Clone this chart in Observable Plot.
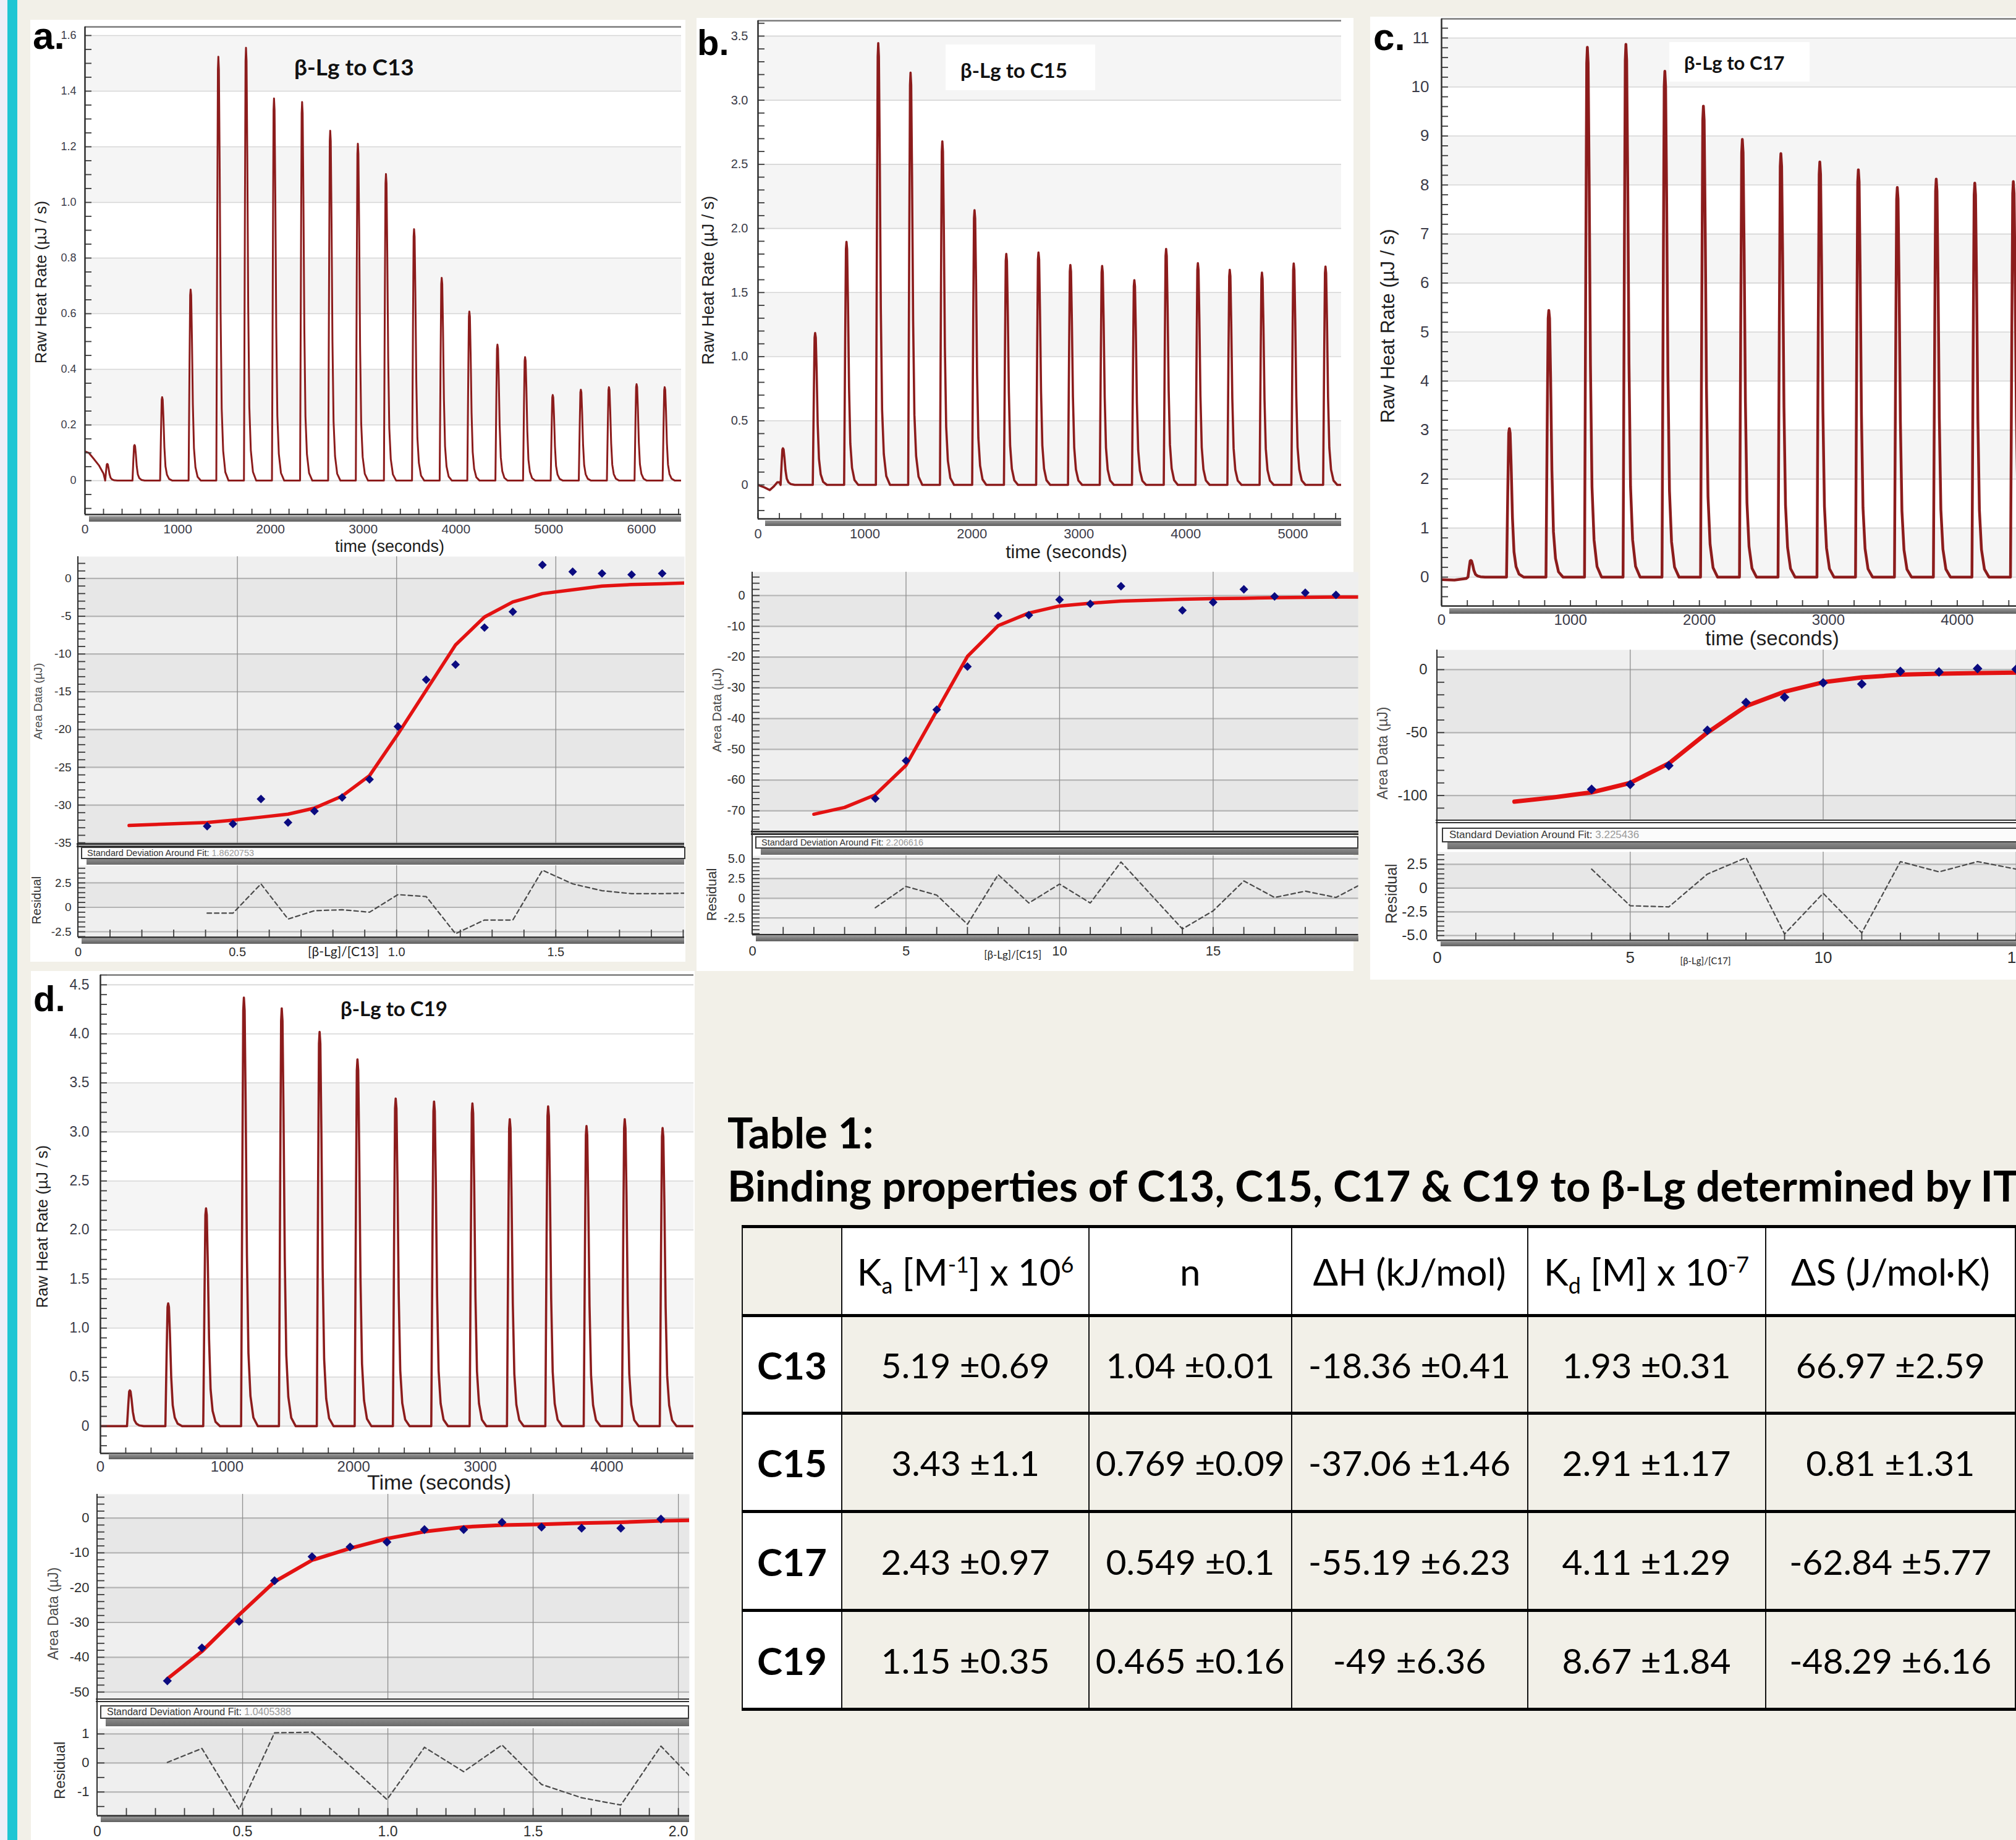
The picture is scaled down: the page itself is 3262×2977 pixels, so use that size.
<!DOCTYPE html>
<html><head><meta charset="utf-8">
<script src="https://cdn.jsdelivr.net/npm/d3@7"></script>
<script src="https://cdn.jsdelivr.net/npm/@observablehq/plot@0.6"></script>
<style>
html,body{margin:0;padding:0;background:#f2f0e8;}
body{width:3262px;height:2977px;overflow:hidden;position:relative;font-family:"Liberation Sans",Arial,sans-serif;}
#root{position:absolute;left:0;top:0;width:3262px;height:2977px;overflow:hidden;}
.deco{position:absolute;}
.lbl{position:absolute;white-space:nowrap;line-height:1;}
.sd{position:absolute;box-sizing:border-box;border:2px solid #3a3a3a;background:#fbfbfb;font-family:"Liberation Sans Narrow","Arial Narrow","Liberation Sans",Arial,sans-serif;color:#333;white-space:nowrap;overflow:hidden;}
.sd span{color:#9a9a9a;}
#tbl{position:absolute;left:1200px;top:1982px;border-collapse:collapse;table-layout:fixed;font-family:Lato,"Open Sans",sans-serif;font-size:57px;color:#000;}
#tbl td{border-left:2px solid #111;border-right:2px solid #111;border-top:5px solid #000;border-bottom:5px solid #000;text-align:center;vertical-align:middle;padding:0;white-space:nowrap;overflow:hidden;}
#tbl td.hd{background:#fff;font-size:60px;}
#tbl td.rl{background:#fff;font-weight:700;font-size:62px;}
#tbl sub,#tbl sup{font-size:0.6em;line-height:0;}
</style></head>
<body><div id="root"></div>
<script>
// ====================== DATA ======================
// common peak template for the raw thermograms (time offset from peak top, fraction of peak height)
const shapeDt   = [-22, -12, -5, 0, 6, 14, 24, 36, 52, 75, 110];
const shapeFrac = [0, 0.6, 0.97, 1, 0.97, 0.75, 0.4, 0.17, 0.07, 0.02, 0];

// ---- Panel a : β-Lg to C13 ----
const aPeakTime   = [240,534,832,1139,1438,1736,2038,2341,2644,2942,3245,3548,3846,4144,4447,4745,5043,5346,5649,5947,6250];
const aPeakHeight = [0.06,0.128,0.30,0.687,1.524,1.556,1.374,1.361,1.258,1.211,1.102,0.904,0.729,0.608,0.489,0.444,0.308,0.327,0.336,0.347,0.336];
const aLeadTime   = [0,40,90,150,200];
const aLeadValue  = [0.105,0.10,0.08,0.055,0.025];
const aRawYTicks  = [0,0.2,0.4,0.6,0.8,1.0,1.2,1.4,1.6];
const aRawXTicks  = [0,1000,2000,3000,4000,5000,6000];
const aRatio      = [0.405,0.486,0.574,0.659,0.742,0.829,0.915,1.004,1.093,1.185,1.276,1.365,1.458,1.553,1.645,1.738,1.834];
const aArea       = [-32.8,-32.5,-29.2,-32.3,-30.8,-29.0,-26.6,-19.6,-13.4,-11.4,-6.5,-4.4,1.8,0.9,0.66,0.5,0.66];
const aFitRatio   = [0.16,0.405,0.486,0.574,0.659,0.742,0.829,0.915,1.004,1.093,1.185,1.276,1.365,1.458,1.553,1.645,1.738,1.834,1.904];
const aFit        = [-32.7,-32.3,-32.0,-31.6,-31.2,-30.4,-28.8,-26.1,-20.6,-14.8,-8.8,-5.1,-3.1,-2.0,-1.5,-1.0,-0.8,-0.7,-0.6];
const aResidRatio = [0.405,0.486,0.574,0.659,0.742,0.829,0.915,1.004,1.093,1.185,1.276,1.365,1.458,1.553,1.645,1.738,1.834,1.904];
const aResid      = [-0.6,-0.6,2.4,-1.2,-0.35,-0.25,-0.5,1.3,1.1,-2.7,-1.3,-1.3,3.8,2.4,1.7,1.4,1.4,1.45];
const aAreaYTicks = [0,-5,-10,-15,-20,-25,-30,-35];
const aResYTicks  = [2.5,0,-2.5];
const aRatioTicks = [0,0.5,1.0,1.5];
const aSD = "1.8620753";

// ---- Panel b : β-Lg to C15 ----
const bPeakTime   = [233,534,827,1124,1426,1723,2024,2321,2622,2920,3217,3518,3815,4112,4410,4711,5008,5305];
const bPeakHeight = [0.285,1.184,1.895,3.445,3.215,2.679,2.142,1.801,1.812,1.715,1.707,1.597,1.840,1.729,1.677,1.655,1.727,1.702];
const bLeadTime   = [0,60,110,150,180,200];
const bLeadValue  = [0.0,-0.02,-0.04,-0.01,0.02,0.02];
const bRawYTicks  = [0,0.5,1.0,1.5,2.0,2.5,3.0,3.5];
const bRawXTicks  = [0,1000,2000,3000,4000,5000];
const bRatio      = [4,5,6,7,8,9,10,11,12,14,15,16,17,18,19];
const bArea       = [-66.0,-53.7,-37.1,-23.1,-6.6,-6.4,-1.35,-2.7,3.0,-4.8,-2.2,2.0,-0.3,0.9,0.2];
const bFitRatio   = [2,3,4,5,6,7,8,9,10,11,12,13,14,15,16,17,18,19,19.73];
const bFit        = [-71.1,-68.9,-64.8,-55.2,-37.5,-19.8,-9.8,-5.7,-3.4,-2.5,-1.8,-1.5,-1.2,-1.0,-0.9,-0.7,-0.6,-0.5,-0.5];
const bResidRatio = [4,5,6,7,8,9,10,11,12,14,15,16,17,18,19,19.73];
const bResid      = [-1.2,1.5,0.4,-3.3,3.0,-0.6,1.8,-0.6,4.6,-3.9,-1.6,2.2,0.1,0.9,0.1,1.6];
const bAreaYTicks = [0,-10,-20,-30,-40,-50,-60,-70];
const bResYTicks  = [5,2.5,0,-2.5];
const bRatioTicks = [0,5,10,15];
const bSD = "2.206616";

// ---- Panel c : β-Lg to C17 ----
const cPeakTime   = [227,526,832,1131,1430,1732,2031,2333,2632,2934,3233,3535,3837,4136,4435];
const cPeakHeight = [0.34,3.03,5.44,10.81,10.87,10.32,9.61,8.93,8.64,8.47,8.31,7.95,8.12,8.04,8.07];
const cLeadTime   = [0,100,190];
const cLeadValue  = [-0.05,-0.06,-0.03];
const cRawYTicks  = [0,1,2,3,4,5,6,7,8,9,10,11];
const cRawXTicks  = [0,1000,2000,3000,4000];
const cRatio      = [4,5,6,7,8,9,10,11,12,13,14,15];
const cArea       = [-95.1,-91.2,-76.3,-48.2,-26.0,-21.9,-10.5,-11.4,-1.4,-1.8,0.9,0.4];
const cFitRatio   = [2,3,4,5,6,7,8,9,10,11,12,13,14,15,15.5];
const cFit        = [-104.9,-101.5,-97.5,-90,-74.5,-50,-29,-17.5,-10,-6.2,-4.0,-3.2,-2.7,-2.4,-2.3];
const cResidRatio = [4,5,6,7,8,9,10,11,12,13,14,15];
const cResid      = [2.0,-1.86,-1.98,1.48,3.2,-4.83,-0.55,-4.71,2.79,1.71,2.79,2.0];
const cAreaYTicks = [0,-50,-100];
const cResYTicks  = [2.5,0,-2.5,-5];
const cRatioTicks = [0,5,10,15];
const cSD = "3.225436";

// ---- Panel d : β-Lg to C19 ----
const dPeakTime   = [232,535,834,1133,1432,1731,2030,2332,2635,2938,3233,3536,3839,4141,4440];
const dPeakHeight = [0.364,1.252,2.22,4.37,4.26,4.02,3.74,3.34,3.31,3.29,3.13,3.26,3.06,3.13,3.04];
const dLeadTime   = [0,200];
const dLeadValue  = [0,0];
const dRawYTicks  = [0,0.5,1.0,1.5,2.0,2.5,3.0,3.5,4.0,4.5];
const dRawXTicks  = [0,1000,2000,3000,4000];
const dRatio      = [0.241,0.360,0.488,0.610,0.739,0.870,0.997,1.126,1.261,1.393,1.529,1.667,1.802,1.940];
const dArea       = [-46.8,-37.3,-29.7,-18.0,-11.1,-8.3,-6.9,-3.3,-3.3,-1.2,-2.6,-2.9,-2.9,-0.3];
const dFitRatio   = [0.241,0.360,0.488,0.610,0.739,0.870,0.997,1.126,1.261,1.393,1.529,1.667,1.802,1.940,2.04];
const dFit        = [-46.2,-38.3,-27.8,-18.3,-12.1,-8.7,-5.9,-3.9,-2.6,-2.0,-1.8,-1.45,-1.2,-0.8,-0.65];
const dResidRatio = [0.241,0.360,0.488,0.610,0.739,0.870,0.997,1.126,1.261,1.393,1.529,1.667,1.802,1.940,2.04];
const dResid      = [0.02,0.5,-1.6,1.04,1.06,-0.1,-1.26,0.54,-0.3,0.62,-0.74,-1.2,-1.45,0.58,-0.46];
const dAreaYTicks = [0,-10,-20,-30,-40,-50];
const dResYTicks  = [1,0,-1];
const dRatioTicks = [0,0.5,1.0,1.5,2.0];
const dSD = "1.0405388";

// ---- Table 1 ----
const tableTitle    = "Table 1:";
const tableSubtitle = "Binding properties of C13, C15, C17 & C19 to β-Lg determined by ITC";
const tableHeaders  = ["K<sub>a</sub> [M<sup>-1</sup>] x 10<sup>6</sup>", "n", "ΔH (kJ/mol)", "K<sub>d</sub> [M] x 10<sup>-7</sup>", "ΔS (J/mol·K)"];
const tableRows     = ["C13","C15","C17","C19"];
const tableKa = ["5.19 ±0.69","3.43 ±1.1","2.43 ±0.97","1.15 ±0.35"];
const tableN  = ["1.04 ±0.01","0.769 ±0.09","0.549 ±0.1","0.465 ±0.16"];
const tableDH = ["-18.36 ±0.41","-37.06 ±1.46","-55.19 ±6.23","-49 ±6.36"];
const tableKd = ["1.93 ±0.31","2.91 ±1.17","4.11 ±1.29","8.67 ±1.84"];
const tableDS = ["66.97 ±2.59","0.81 ±1.31","-62.84 ±5.77","-48.29 ±6.16"];

// ====================== DRAWING ======================
const root = document.getElementById("root");
const SANS = '"Liberation Sans", Arial, Helvetica, sans-serif';
const NARROW = '"Liberation Sans Narrow", "Arial Narrow", "Liberation Sans", Arial, sans-serif';
const CAL = 'Lato, "Open Sans", sans-serif';
const TRACE = "#8c1c1c";
const FIT = "#e31212";
const DOT = "#0b0b80";
const M = 130;
const fmt1 = d => d === 0 ? "0" : d.toFixed(1);
const fmt0 = d => String(d);

function deco(x, y, w, h, style) {
  const el = document.createElement("div");
  el.className = "deco";
  Object.assign(el.style, {left: x + "px", top: y + "px", width: w + "px", height: h + "px"}, style || {});
  root.appendChild(el);
  return el;
}
function label(text, x, y, size, style) {
  const el = document.createElement("div");
  el.className = "lbl";
  el.textContent = text;
  Object.assign(el.style, {left: x + "px", top: y + "px", fontSize: size + "px"}, style || {});
  root.appendChild(el);
  return el;
}
function buildTrace(leadT, leadV, peakT, peakH, endT) {
  const pts = leadT.map((t, i) => ({t, v: leadV[i]}));
  peakT.forEach((tp, i) => shapeDt.forEach((dt, j) => pts.push({t: tp + dt, v: peakH[i] * shapeFrac[j]})));
  pts.push({t: endT, v: 0});
  return pts;
}
const zipXY = (xs, ys) => xs.map((x, i) => ({x, y: ys[i]}));

function panelPlot(c) {
  const [x0, y0, x1, y1] = c.frame;
  const W = x1 - x0, H = y1 - y0;
  const [xa, xb] = c.xDomain;
  const marks = [Plot.frame({fill: c.bg, stroke: "none"})];
  if (c.bands) marks.push(Plot.rect(c.bands, {x1: () => xa, x2: () => xb, y1: d => d[0], y2: d => d[1], fill: c.bandFill}));
  if (c.hGrid) marks.push(Plot.ruleY(c.hGrid, {stroke: c.gridStroke, strokeWidth: c.gridWidth}));
  if (c.vGrid) marks.push(Plot.ruleX(c.vGrid, {stroke: "#8e8e8e", strokeWidth: 1.3}));
  (c.data || []).forEach(m => marks.push(m));
  if (c.yMinor) marks.push(Plot.ruleY(c.yMinor, {stroke: "#3c3c3c", strokeWidth: 1.8, insetRight: W - c.tickLen}));
  if (c.xTicks) marks.push(Plot.ruleX(c.xTicks, {stroke: "#3c3c3c", strokeWidth: 1.8, insetTop: H - c.xTickLen}));
  if (c.topLine) marks.push(Plot.ruleY([c.yDomain[1]], {stroke: "#7a7a7a", strokeWidth: 2.5}));
  if (c.bottomLine) marks.push(Plot.ruleY([c.yDomain[0]], {stroke: "#2e2e2e", strokeWidth: 2.5}));
  if (c.leftLine) marks.push(Plot.ruleX([xa], {stroke: "#2e2e2e", strokeWidth: 2.5}));
  if (c.yLabels) marks.push(Plot.axisY(c.yLabels, {anchor: "left", label: null, tickSize: 0, tickPadding: c.yPad, tickFormat: c.yFormat, fontSize: c.yFont, fill: c.tickColor || "#3b3b48", fontFamily: c.tickFamily || SANS}));
  if (c.xLabels) marks.push(Plot.axisX(c.xLabels, {anchor: "bottom", label: null, tickSize: 0, tickPadding: c.xPad, tickFormat: c.xFormat || fmt0, fontSize: c.xFont, fill: c.tickColor || "#3b3b48", fontFamily: c.tickFamily || SANS}));
  (c.titles || []).filter(t => t.text).forEach(t => marks.push(Plot.text([t.text], {
    text: d => d, frameAnchor: t.anchor, dx: t.dx, dy: t.dy, rotate: t.rotate || 0,
    fontSize: t.size, fontWeight: t.weight || "normal", fill: t.color || "#1e1e1e",
    fontFamily: t.family || SANS, textAnchor: "middle", lineAnchor: "middle"
  })));
  const svg = Plot.plot({
    width: W + 2 * M, height: H + 2 * M, margin: M,
    x: {domain: c.xDomain, axis: null, label: null},
    y: {domain: c.yDomain, axis: null, label: null},
    style: {background: "transparent", overflow: "visible", fontFamily: SANS},
    marks
  });
  svg.style.position = "absolute";
  svg.style.left = (x0 - M) + "px";
  svg.style.top = (y0 - M) + "px";
  root.appendChild(svg);
}

// left stripe
deco(0, 0, 12, 2977, {background: "#eeeef7"});
deco(12, 0, 16, 2977, {background: "#1fc6d3"});

// white panel cards
deco(49, 32, 1060, 1524, {background: "#fff"});
deco(1127, 29, 1063, 1542, {background: "#fff"});
deco(2217, 27, 1045, 1558, {background: "#fff"});
deco(50, 1571, 1074, 1406, {background: "#fff"});

// ---------------- raw thermograms ----------------
function rawPanel(o) {
  panelPlot({
    frame: o.frame, xDomain: o.xDomain, yDomain: o.yDomain,
    bg: "#ffffff", bands: o.bands, bandFill: "#f5f5f5",
    hGrid: o.yTicks, gridStroke: "#d6d6d6", gridWidth: 1.6,
    data: [Plot.line(o.trace, {x: "t", y: "v", stroke: TRACE, strokeWidth: o.sw, clip: true})],
    yMinor: o.yMinor, tickLen: 11, xTicks: o.xTicks, xTickLen: 9,
    topLine: true, bottomLine: true, leftLine: true,
    yLabels: o.yTicks, yFormat: o.yFormat, yFont: o.yFont, yPad: o.yPad,
    xLabels: o.xLabels, xFont: o.xFont, xPad: o.xPad,
    titles: [
      {text: "Raw Heat Rate (µJ / s)", anchor: "left", dx: o.yt[0], dy: o.yt[1], rotate: -90, size: o.yt[2]},
      {text: o.xTitle, anchor: "bottom", dx: o.xt[0], dy: o.xt[1], size: o.xt[2]}
    ]
  });
}
rawPanel({frame: [137, 43, 1102, 832], xDomain: [0, 6430], yDomain: [-0.122, 1.631],
  bands: [[0.2, 0.4], [0.6, 0.8], [1.0, 1.2], [1.4, 1.6]], yTicks: aRawYTicks, yFormat: fmt1,
  trace: buildTrace(aLeadTime, aLeadValue, aPeakTime, aPeakHeight, 6430), sw: 3,
  yMinor: d3.range(-0.1, 1.62, 0.05), xTicks: d3.range(0, 6401, 200), xLabels: aRawXTicks,
  yFont: 18, yPad: 14, xFont: 21, xPad: 16, xTitle: "time (seconds)",
  yt: [-71, 18.5, 26], xt: [10.5, 52, 27]});
rawPanel({frame: [1226, 33, 2170, 839], xDomain: [0, 5454], yDomain: [-0.265, 3.62],
  bands: [[0, 0.5], [1.0, 1.5], [2.0, 2.5], [3.0, 3.5]], yTicks: bRawYTicks, yFormat: fmt1,
  trace: buildTrace(bLeadTime, bLeadValue, bPeakTime, bPeakHeight, 5454), sw: 3.6,
  yMinor: d3.range(-0.2, 3.61, 0.1), xTicks: d3.range(0, 5401, 200), xLabels: bRawXTicks,
  yFont: 20, yPad: 16, xFont: 22, xPad: 16, xTitle: "time (seconds)",
  yt: [-80, 17, 27], xt: [27, 54, 30]});
rawPanel({frame: [2332, 30, 3292, 980], xDomain: [0, 4602], yDomain: [-0.59, 11.39],
  bands: [[0, 1], [2, 3], [4, 5], [6, 7], [8, 9], [10, 11]], yTicks: cRawYTicks, yFormat: fmt0,
  trace: buildTrace(cLeadTime, cLeadValue, cPeakTime, cPeakHeight, 4602), sw: 4.5,
  yMinor: d3.range(-0.4, 11.3, 0.2), xTicks: d3.range(0, 4601, 200), xLabels: cRawXTicks,
  yFont: 26, yPad: 20, xFont: 24, xPad: 13, xTitle: "time (seconds)",
  yt: [-86, 22, 31], xt: [55, 53, 33]});
rawPanel({frame: [162, 1577, 1122, 2351], xDomain: [0, 4686], yDomain: [-0.278, 4.6],
  bands: [[0, 0.5], [1.0, 1.5], [2.0, 2.5], [3.0, 3.5]], yTicks: dRawYTicks, yFormat: fmt1,
  trace: buildTrace(dLeadTime, dLeadValue, dPeakTime, dPeakHeight, 4686), sw: 3.6,
  yMinor: d3.range(-0.2, 4.61, 0.1), xTicks: d3.range(0, 4601, 200), xLabels: dRawXTicks,
  yFont: 23, yPad: 18, xFont: 24, xPad: 12, xTitle: "Time (seconds)",
  yt: [-94, 20, 26], xt: [68, 48, 34]});

// raw-plot scroll bars
[[144, 835, 958], [1238, 842, 932], [2345, 984, 917], [176, 2352, 946]].forEach(([x, y, w]) =>
  deco(x, y, w, 9, {background: "linear-gradient(#9a9a9a,#5e5e5e)"}));

// ---------------- area + residual panels ----------------
function areaPanel(o) {
  const [x0, y0, x1, y1] = o.areaFrame;
  panelPlot({
    frame: o.areaFrame, xDomain: o.xDomain, yDomain: o.areaDomain,
    bg: "#efefef", bands: o.areaBands, bandFill: "#e7e7e7",
    hGrid: o.areaTicks, gridStroke: "#b4b4b4", gridWidth: 2.2, vGrid: o.vGrid,
    data: [
      Plot.line(o.fit, {x: "x", y: "y", stroke: FIT, strokeWidth: o.fitWidth, clip: true}),
      Plot.dot(o.points, {x: "x", y: "y", symbol: "diamond2", r: o.dotR, fill: DOT, stroke: "none", clip: true})
    ],
    yMinor: o.areaMinor, tickLen: 12,
    yLabels: o.areaTicks, yFormat: fmt0, yFont: o.tf, yPad: o.yPad, tickFamily: NARROW, tickColor: "#2e2e2e",
    titles: [{text: "Area Data (µJ)", anchor: "left", dx: o.at[0], dy: o.at[1], rotate: -90, size: o.at[2], color: "#4a4a4a"}]
  });
  const [r0, ry0, r1, ry1] = o.resFrame;
  panelPlot({
    frame: o.resFrame, xDomain: o.xDomain, yDomain: o.resDomain,
    bg: "#efefef", bands: o.resBands, bandFill: "#e7e7e7",
    hGrid: o.resTicks, gridStroke: "#b4b4b4", gridWidth: 2.2, vGrid: o.vGrid,
    data: [Plot.line(o.resid, {x: "x", y: "y", stroke: "#4a4a4a", strokeWidth: 2.2, strokeDasharray: "7,5", clip: true})],
    yMinor: o.resMinor, tickLen: 12, xTicks: o.ratioMinor, xTickLen: 12, bottomLine: true,
    yLabels: o.resTicks, yFormat: o.resFormat, yFont: o.tf, yPad: o.yPad,
    xLabels: o.ratioTicks, xFormat: o.ratioFormat, xFont: o.xf, xPad: o.xPad, tickFamily: NARROW, tickColor: "#2e2e2e",
    titles: [
      {text: "Residual", anchor: "left", dx: o.rt[0], dy: o.rt[1], rotate: -90, size: o.rt[2], color: "#333"},
      {text: o.ratioLabel, anchor: "bottom", dx: o.lt[0], dy: o.lt[1], size: o.lt[2], family: CAL, color: "#222"}
    ]
  });
  // separators, SD box and bars
  deco(x0 - 2, y1, x1 - x0 + 2, 2.5, {background: "#333"});
  deco(x0 - 2, y1 + 4, x1 - x0 + 2, 2.5, {background: "#333"});
  const sd = deco(o.sdBox[0], o.sdBox[1], o.sdBox[2], o.sdBox[3], {});
  sd.className = "sd";
  sd.style.fontSize = o.sdFont + "px";
  sd.style.lineHeight = (o.sdBox[3] - 4) + "px";
  sd.style.paddingLeft = o.sdPad + "px";
  sd.innerHTML = "Standard Deviation Around Fit: <span>" + o.sd + "</span>";
  deco(o.sdBox[0] + 9, o.sdBox[1] + o.sdBox[3], x1 - o.sdBox[0] - 9, o.shadowH, {background: "linear-gradient(#8a8a8a,#6a6a6a)"});
  deco(x0 + 6, ry1 + 2, x1 - x0 - 6, 9, {background: "linear-gradient(#9a9a9a,#5e5e5e)"});
  // left axis spanning both plots
  deco(x0 - 1.25, y0, 2.5, ry1 - y0, {background: "#2e2e2e"});
}

areaPanel({
  xDomain: [0, 1.904], areaFrame: [126, 900, 1107, 1364.4], areaDomain: [-35.1, 2.9],
  areaBands: [[-5, 0], [-15, -10], [-25, -20], [-35, -30]], areaTicks: aAreaYTicks, areaMinor: d3.range(-35, 3, 1),
  vGrid: [0.5, 1.0, 1.5], fit: zipXY(aFitRatio, aFit), points: zipXY(aRatio, aArea), fitWidth: 5.5, dotR: 6.3,
  resFrame: [126, 1400, 1107, 1516], resDomain: [-3.07, 4.27], resBands: [[0, 2.5]], resTicks: aResYTicks,
  resMinor: d3.range(-3, 4.1, 0.5), resFormat: fmt1, resid: zipXY(aResidRatio, aResid),
  ratioMinor: d3.range(0.1, 1.95, 0.1), ratioTicks: aRatioTicks, ratioFormat: fmt1, ratioLabel: "[β-Lg]/[C13]",
  tf: 19, yPad: 11, xf: 20, xPad: 16,
  at: [-65, 2, 19], rt: [-67, -2, 20], lt: [-61.5, 24, 21],
  sdBox: [131, 1370, 978, 20], sdFont: 14.5, sdPad: 8, sd: aSD, shadowH: 9
});
areaPanel({
  xDomain: [0, 19.73], areaFrame: [1217, 924.6, 2197.5, 1344.3], areaDomain: [-76.7, 7.64],
  areaBands: [[-10, 0], [-30, -20], [-50, -40], [-70, -60]], areaTicks: bAreaYTicks, areaMinor: d3.range(-76, 7, 2),
  vGrid: [5, 10, 15], fit: zipXY(bFitRatio, bFit), points: zipXY(bRatio, bArea), fitWidth: 5.5, dotR: 6.3,
  resFrame: [1217, 1384, 2197.5, 1511.7], resDomain: [-4.62, 5.4], resBands: [[0, 2.5]], resTicks: bResYTicks,
  resMinor: d3.range(-4.5, 5.1, 0.5), resFormat: fmt1, resid: zipXY(bResidRatio, bResid),
  ratioMinor: d3.range(1, 19.5, 1), ratioTicks: bRatioTicks, ratioFormat: fmt0, ratioLabel: "[β-Lg]/[C15]",
  tf: 20, yPad: 12, xf: 22, xPad: 18,
  at: [-57, 13.5, 21], rt: [-66, -1, 22], lt: [-69, 33.3, 17],
  sdBox: [1222, 1353, 975.5, 20], sdFont: 14.5, sdPad: 8, sd: bSD, shadowH: 10
});
areaPanel({
  xDomain: [0, 15.5], areaFrame: [2325, 1051, 3293, 1325.7], areaDomain: [-119.2, 15.7],
  areaBands: [[-50, 0], [-119.2, -100]], areaTicks: cAreaYTicks, areaMinor: d3.range(-110, 15, 10),
  vGrid: [5, 10, 15], fit: zipXY(cFitRatio, cFit), points: zipXY(cRatio, cArea), fitWidth: 7, dotR: 7,
  resFrame: [2325, 1377.5, 3293, 1520.4], resDomain: [-5.5, 3.8], resBands: [[0, 2.5]], resTicks: cResYTicks,
  resMinor: d3.range(-5, 3.6, 0.5), resFormat: fmt1, resid: zipXY(cResidRatio, cResid),
  ratioMinor: d3.range(1, 15.5, 1), ratioTicks: cRatioTicks, ratioFormat: fmt0, ratioLabel: "[β-Lg]/[C17]",
  tf: 24, yPad: 16, xf: 26, xPad: 18,
  at: [-88, 29.6, 23], rt: [-74, -4, 25], lt: [-50, 33.6, 15],
  sdBox: [2333, 1339, 940, 24], sdFont: 17, sdPad: 10, sd: cSD, shadowH: 11
});
areaPanel({
  xDomain: [0, 2.038], areaFrame: [157, 2416.6, 1115, 2747.7], areaDomain: [-51.95, 6.86],
  areaBands: [[-10, 0], [-30, -20], [-50, -40]], areaTicks: dAreaYTicks, areaMinor: d3.range(-50, 7, 2),
  vGrid: [0.5, 1.0, 1.5, 2.0], fit: zipXY(dFitRatio, dFit), points: zipXY(dRatio, dArea), fitWidth: 6, dotR: 6.5,
  resFrame: [157, 2796, 1115, 2937.3], resDomain: [-1.82, 1.19], resBands: [[0, 1]], resTicks: dResYTicks,
  resMinor: d3.range(-1.5, 1.1, 0.5), resFormat: fmt0, resid: zipXY(dResidRatio, dResid),
  ratioMinor: d3.range(0.1, 2.04, 0.1), ratioTicks: dRatioTicks, ratioFormat: fmt1, ratioLabel: "",
  tf: 22, yPad: 13, xf: 23, xPad: 17,
  at: [-71, 27.8, 23], rt: [-60, -2.7, 24], lt: [0, 40, 1],
  sdBox: [162, 2759, 953, 22], sdFont: 16, sdPad: 9, sd: dSD, shadowH: 12
});

// panel letters and titles
const LET = {fontFamily: SANS, fontWeight: "700", color: "#000"};
label("a.", 53, 27, 62, LET);
label("b.", 1128, 40, 58, LET);
label("c.", 2222, 29, 62, LET);
label("d.", 54, 1587, 58, LET);
deco(1530, 72, 242, 74, {background: "#fff"});
deco(2701, 68, 227, 64, {background: "#fff"});
const TT = {fontFamily: CAL, fontWeight: "700", color: "#111"};
label("β-Lg to C13", 476, 89, 37, TT);
label("β-Lg to C15", 1554, 97, 33, TT);
label("β-Lg to C17", 2725, 86, 31, TT);
label("β-Lg to C19", 551, 1615, 33, TT);

// ---------------- Table 1 ----------------
label(tableTitle, 1177, 1797, 69, {fontFamily: CAL, fontWeight: "700", color: "#000"});
label(tableSubtitle, 1177, 1883, 69, {fontFamily: CAL, fontWeight: "700", color: "#000"});

const colW = [162, 401, 328, 383, 386, 406];
const rowH = [144, 158, 159, 160, 160];
const tbl = d3.select("#root").append("table").attr("id", "tbl");
const cg = tbl.append("colgroup");
colW.forEach(w => cg.append("col").style("width", w + "px"));
const hr = tbl.append("tr").style("height", rowH[0] + "px");
hr.append("td").attr("class", "corner");
tableHeaders.forEach(h => hr.append("td").attr("class", "hd").html(h));
const cols = [tableKa, tableN, tableDH, tableKd, tableDS];
tableRows.forEach((r, i) => {
  const tr = tbl.append("tr").style("height", rowH[i + 1] + "px");
  tr.append("td").attr("class", "rl").text(r);
  cols.forEach(col => tr.append("td").attr("class", "v").text(col[i]));
});
</script></body></html>
